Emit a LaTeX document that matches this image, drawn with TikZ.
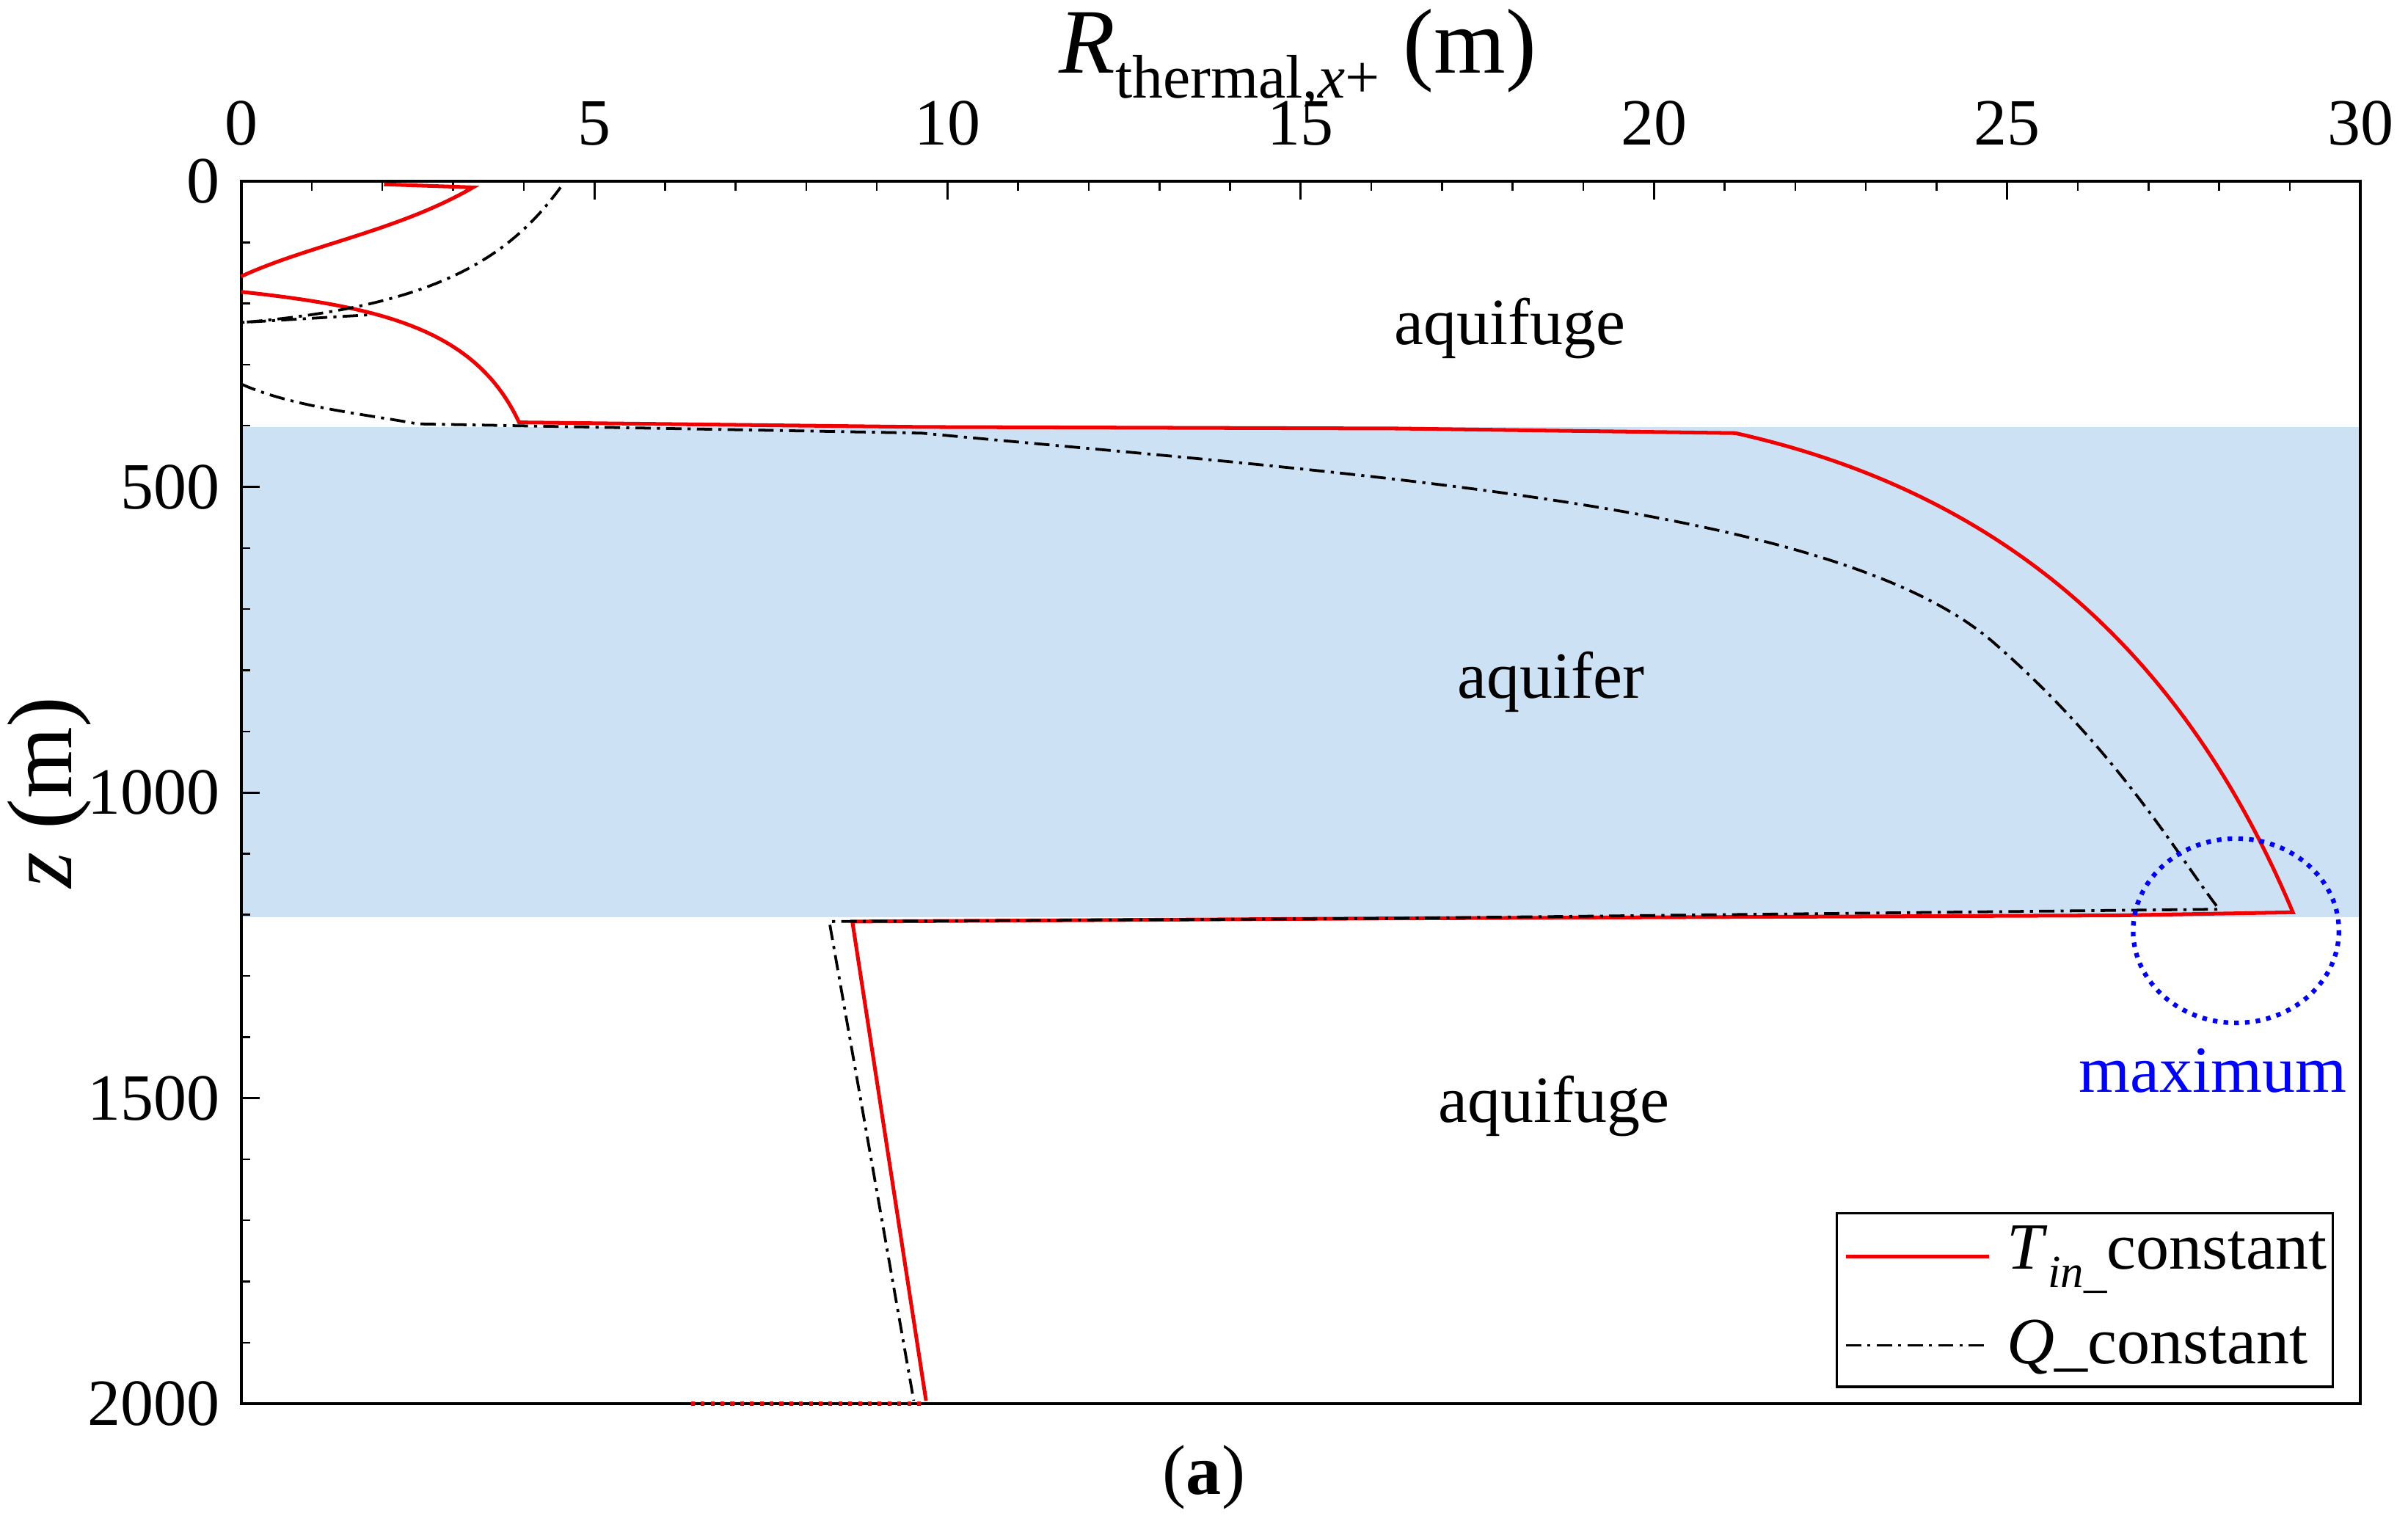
\documentclass[tikz,border=0pt]{standalone}
\usepackage{fontspec}
\setmainfont{Liberation Serif}
\definecolor{aqua}{RGB}{204,226,244}
\begin{document}
\begin{tikzpicture}[x=0.5pt,y=-0.5pt,
  red/.style={draw={rgb,255:red,240;green,0;blue,0},line width=1.2pt},
  blk/.style={draw=black,line width=0.9pt,dash pattern=on 5pt off 2pt on 1pt off 2pt},
  tick/.style={font=\fontsize{21.5}{23}\selectfont},
  lab/.style={font=\fontsize{21.5}{23}\selectfont}]
\useasboundingbox (0,0) rectangle (1568,992);
\fill[aqua] (157,278) rectangle (1537,597);
% ticks
\foreach \i in {0,...,30}{\draw[line width=0.6pt] ({157+46*\i},118) -- ({157+46*\i},124);}
\foreach \i in {0,5,...,30}{\draw[line width=0.7pt] ({157+46*\i},118) -- ({157+46*\i},130);
  \node[tick,anchor=south] at ({157+46*\i},102) {\i};}
\foreach \j in {0,...,20}{\draw[line width=0.6pt] (157,{118+39.8*\j}) -- (163,{118+39.8*\j});}
\foreach \j in {0,500,1000,1500,2000}{\draw[line width=0.7pt] (157,{118+0.398*\j}) -- (169,{118+0.398*\j});
  \node[tick,anchor=east] at (150,{118+0.398*\j}) {\j};}
\draw[line width=1pt] (157,118) rectangle (1537,914);
\node[font=\fontsize{30}{32}\selectfont] (tx) at (845,38) {\textit{R}\raisebox{-0.6ex}{\fontsize{20}{22}\selectfont thermal,\textit{x}+} (m)};
\node[font=\fontsize{30}{32}\selectfont,rotate=90] (ty) at (32,516) {\textit{z} (m)};
\node[lab] (a1) at (983,214) {aquifuge};
\node[lab] (a2) at (1010,444) {aquifer};
\node[lab] (a3) at (1012,720) {aquifuge};
\node[font=\fontsize{21.5}{23}\selectfont,text=blue] (mx) at (1441,697) {maximum};
\node[font=\fontsize{23}{25}\selectfont] (cap) at (784,962) {(\textbf{a})};
% red curve
\draw[red] (250,120) -- (308,122) .. controls (260,150) and (200,160) .. (157,180);
\draw[red] (157,190) .. controls (250,200) and (310,215) .. (338,275) -- (600,278) -- (910,279) -- (1130,282)
  .. controls (1300,320) and (1420,420) .. (1493,594) -- (1380,596) -- (900,598) -- (555,600) -- (603,912);
\draw[red,dotted,line width=1.5pt] (450,914) -- (600,914);
% black curve
\draw[blk] (365,122) .. controls (330,170) and (280,200) .. (157,210) -- (240,205);
\draw[blk] (157,250) .. controls (190,265) and (240,270) .. (272,276) -- (600,282)
  .. controls (900,310) and (1200,330) .. (1300,420) .. controls (1380,490) and (1420,560) .. (1445,592)
  -- (900,598) -- (540,600) -- (595,912);
% circle
\draw[blue,dotted,line width=1.5pt] (1456,606) ellipse [x radius=67,y radius=60];
% legend
\draw[line width=0.8pt,fill=white] (1196,790) rectangle (1519,903);
\draw[red] (1202,818) -- (1295,818);
\node[lab,anchor=west] (l1) at (1300,820) {\textit{T}\raisebox{-0.6ex}{\fontsize{15}{16}\selectfont\textit{in\_}}constant};
\draw[blk] (1202,876) -- (1295,876);
\node[lab,anchor=west] (l2) at (1300,877) {\textit{Q}\_constant};
\end{tikzpicture}
\end{document}
